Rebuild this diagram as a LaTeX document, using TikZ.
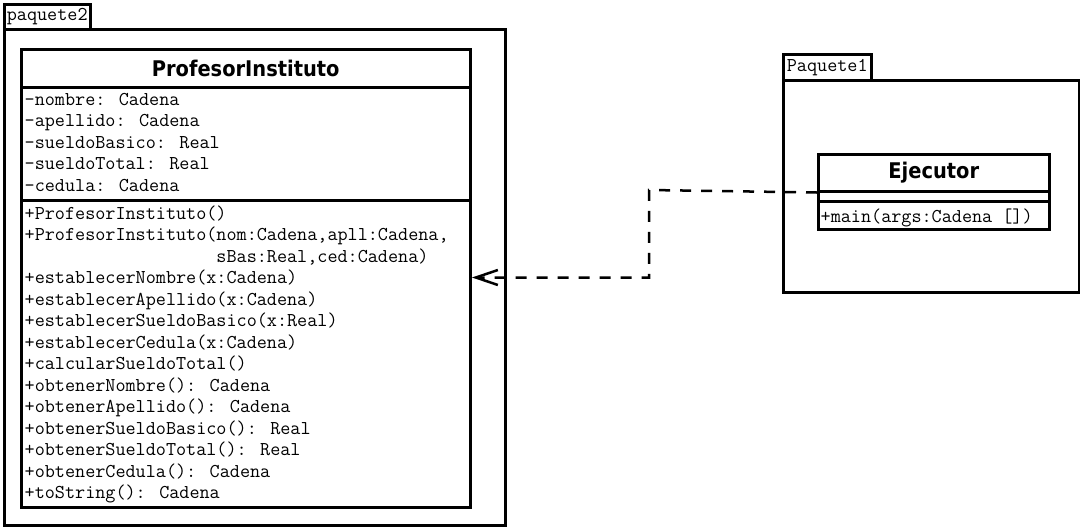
\documentclass[tikz,border=0pt]{standalone}
\usepackage{fontspec}
\newfontfamily\titlefont{DejaVu Sans Condensed}
\usetikzlibrary{arrows.meta,positioning}

\tikzset{
  caja/.style={draw, line width=2.5pt, rectangle, inner sep=0pt, anchor=north west},
  titulo/.style={font=\titlefont\bfseries\fontsize{21.6}{24}\selectfont},
  miembro/.style={anchor=base west, inner sep=0pt, font=\ttfamily\fontsize{19.6}{21.5}\selectfont},
  pestana/.style={caja, font=\ttfamily\fontsize{19.6}{21.5}\selectfont},
  depende/.style={line width=2.5pt, dash pattern=on 11pt off 10pt,
    -{Straight Barb[length=22pt,width=15pt]}}
}

\begin{document}
\begin{tikzpicture}[x=1pt,y=-1pt]
        \useasboundingbox (0,0) rectangle (1080,528);
        % paquete2
        \node[pestana, minimum width=86pt, minimum height=25pt] (pestdos) at (3,3) {paquete2};
        \node[caja, minimum width=501pt, minimum height=496pt] (paqdos) at (3,28) {};
        \node[caja, titulo, minimum width=449pt, minimum height=38pt] (proftit) at (20,48) {ProfesorInstituto};
        \node[caja, minimum width=449pt, minimum height=113pt] (profatr) at (20,86) {};
        \node[caja, minimum width=449pt, minimum height=307pt] (profmet) at (20,199) {};
        \foreach \t [count=\i] in {{-nombre: Cadena},{-apellido: Cadena},{-sueldoBasico: Real},
                                   {-sueldoTotal: Real},{-cedula: Cadena}}
            \node[miembro] (atr\i) at (24.5,{105+(\i-1)*21.5}) {\t};
        \foreach \t [count=\i] in {{+ProfesorInstituto()},
                                   {+ProfesorInstituto(nom:Cadena,apll:Cadena,},
                                   {\phantom{+ProfesorInstituto(}sBas:Real,ced:Cadena)},
                                   {+establecerNombre(x:Cadena)},{+establecerApellido(x:Cadena)},
                                   {+establecerSueldoBasico(x:Real)},{+establecerCedula(x:Cadena)},
                                   {+calcularSueldoTotal()},{+obtenerNombre(): Cadena},
                                   {+obtenerApellido(): Cadena},{+obtenerSueldoBasico(): Real},
                                   {+obtenerSueldoTotal(): Real},{+obtenerCedula(): Cadena},
                                   {+toString(): Cadena}}
            \node[miembro] (met\i) at (24.5,{219+(\i-1)*21.5}) {\t};
        % Paquete1
        \node[pestana, minimum width=88pt, minimum height=26pt] (pestuno) at (782,53) {Paquete1};
        \node[caja, minimum width=296pt, minimum height=212pt] (paquno) at (782,79) {};
        \node[caja, titulo, minimum width=231pt, minimum height=37pt] (ejectit) at (817,153) {Ejecutor};
        \node[caja, minimum width=231pt, minimum height=10pt] (ejecatr) at (817,190) {};
        \node[caja, minimum width=231pt, minimum height=28pt] (ejecmet) at (817,200) {};
        \node[miembro] (main) at (820.5,222) {+main(args:Cadena [])};
        % dependencia
        \coordinate (codo) at (649,190);
        \coordinate (llegada) at (472,277.5);
        \draw[depende] (ejectit.south west) -- (codo) |- (llegada);
\end{tikzpicture}
\end{document}
